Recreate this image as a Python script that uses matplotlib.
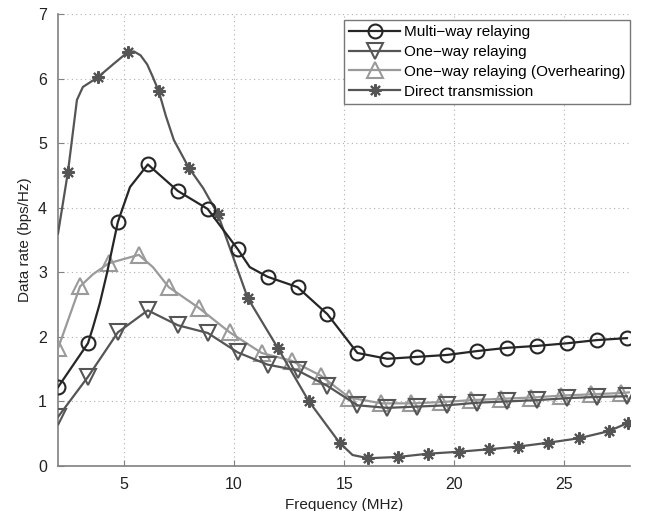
import numpy as np
import matplotlib
matplotlib.use("Agg")
import matplotlib.pyplot as plt

plt.rcParams["font.family"] = ["Liberation Sans", "DejaVu Sans"]

# values; marker lists pick the plotted symbols
multi_x = [2.0, 3.36, 3.59, 3.9, 4.22, 4.72, 5.27, 6.08, 7.44, 8.8, 10.16, 10.71,
           11.52, 12.88, 14.24, 15.6, 16.96, 18.32, 19.68, 21.04, 22.4, 23.76, 25.12,
           26.48, 27.84]
multi_y = [1.22, 1.90, 2.15, 2.52, 2.98, 3.78, 4.32, 4.67, 4.26, 3.98, 3.36, 3.08,
           2.93, 2.77, 2.35, 1.75, 1.66, 1.69, 1.72, 1.78, 1.83, 1.86, 1.90, 1.95, 1.98]
multi_mark = [0, 1, 5, 7, 8, 9, 10, 12, 13, 14, 15, 16, 17, 18, 19, 20, 21, 22, 23, 24]

oneway_x = [2.0, 3.36, 4.72, 6.08, 7.44, 8.8, 10.16, 11.52, 12.88, 14.24, 15.6,
            16.96, 18.32, 19.68, 21.04, 22.4, 23.76, 25.12, 26.48, 27.84]
oneway_y = [0.76, 1.38, 2.07, 2.41, 2.18, 2.06, 1.76, 1.57, 1.48, 1.24, 0.94,
            0.90, 0.92, 0.94, 0.98, 1.00, 1.02, 1.05, 1.07, 1.08]

over_x = [2.0, 3.0, 3.59, 4.31, 5.67, 6.31, 7.03, 8.39, 9.8, 11.25, 12.61, 13.93,
          15.24, 16.69, 18.05, 19.41, 20.78, 22.14, 23.5, 24.86, 26.22, 27.58, 27.95]
over_y = [1.82, 2.78, 2.97, 3.14, 3.27, 3.08, 2.77, 2.45, 2.07, 1.75, 1.63, 1.40,
          1.06, 0.97, 0.97, 0.99, 1.02, 1.04, 1.06, 1.09, 1.11, 1.13, 1.14]
over_mark = [0, 1, 3, 4, 6, 7, 8, 9, 10, 11, 12, 13, 14, 15, 16, 17, 18, 19, 20, 21]

direct_x = [2.0, 2.45, 2.86, 3.13, 3.81, 4.5, 5.17, 5.45, 5.75, 6.05, 6.3, 6.58,
            6.9, 7.26, 7.94, 8.6, 9.26, 10.62, 11.98, 13.38, 14.79, 15.38, 16.1,
            17.46, 18.8, 20.2, 21.6, 22.9, 24.27, 25.67, 27.03, 27.9]
direct_y = [3.6, 4.55, 5.67, 5.87, 6.02, 6.22, 6.41, 6.42, 6.36, 6.22, 6.03, 5.80,
            5.42, 5.05, 4.62, 4.30, 3.90, 2.60, 1.83, 1.01, 0.36, 0.17, 0.12, 0.14,
            0.19, 0.22, 0.26, 0.30, 0.36, 0.43, 0.54, 0.67]
direct_mark = [1, 4, 6, 11, 14, 16, 17, 18, 19, 20, 22, 23, 24, 25, 26, 27, 28, 29,
               30, 31]

fig = plt.figure(figsize=(6.46, 5.11), dpi=100)
ax = fig.add_axes([0.0898, 0.0881, 0.886, 0.8845])

ax.plot(multi_x, multi_y, color="#262626", lw=1.6, marker="o", ms=10, mfc="none",
        mew=1.5, markevery=multi_mark, label="Multi\u2212way relaying", zorder=5)
ax.plot(oneway_x, oneway_y, color="#555555", lw=1.6, marker="v", ms=11, mfc="none",
        mew=1.5, label="One\u2212way relaying", zorder=4)
ax.plot(over_x, over_y, color="#9a9a9a", lw=1.6, marker="^", ms=11, mfc="none",
        mew=1.5, markevery=over_mark, label="One\u2212way relaying (Overhearing)", zorder=3)
ax.plot(direct_x, direct_y, color="#555555", lw=1.6, marker=(8, 2, 0), ms=9,
        mew=1.5, markevery=direct_mark, label="Direct transmission", zorder=4)

ax.set_xlim(2, 28)
ax.set_ylim(0, 7)
ax.set_xticks([5, 10, 15, 20, 25])
ax.set_yticks(range(0, 8))
ax.grid(True, linestyle=(0, (1, 3)), color="#b0b0b0", lw=0.8)
for s in ["top", "right"]:
    ax.spines[s].set_visible(False)
for s in ["left", "bottom"]:
    ax.spines[s].set_color("#808080")
    ax.spines[s].set_linewidth(1.2)
ax.tick_params(direction="in", length=4, color="#808080", labelsize=11.5,
               labelcolor="#222222", pad=8)
ax.set_xlabel("Frequency (MHz)", fontsize=11, color="#222222", labelpad=4)
ax.set_ylabel("Data rate (bps/Hz)", fontsize=11, color="#222222", labelpad=4)

leg = ax.legend(loc="upper right", bbox_to_anchor=(1.0, 0.987), borderaxespad=0,
                fontsize=11, handlelength=3.3, handletextpad=0.25, labelspacing=0.38,
                borderpad=0.35, fancybox=False, framealpha=1)
leg.get_frame().set_edgecolor("#777777")
leg.get_frame().set_linewidth(1.0)

fig.savefig("out.png", dpi=100)
